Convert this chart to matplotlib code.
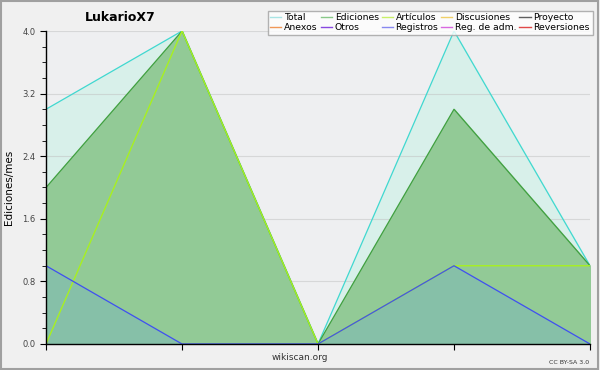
import matplotlib.pyplot as plt
from matplotlib.lines import Line2D
from matplotlib.patches import Rectangle

# monthly edits, five months
months = [0, 1, 2, 3, 4]
total = [3, 4, 0, 4, 1]
ediciones = [2, 4, 0, 3, 1]
articulos = [0, 4, 0, 1, 1]
registros = [1, 0, 0, 1, 0]

legend_names = ['Total', 'Anexos', 'Ediciones', 'Otros', 'Artículos', 'Registros',
                'Discusiones', 'Reg. de adm.', 'Proyecto', 'Reversiones']
legend_colors = ['#a8e4e4', '#f09858', '#88c888', '#8848e0', '#c8f068', '#8888f0',
                 '#f0d068', '#d868e0', '#606060', '#e04848']

plt.rcParams['font.family'] = ['DejaVu Sans']
fig = plt.figure(figsize=(6, 3.7), dpi=100, facecolor='#f0f0f0')
fig.patches.append(Rectangle((0.002, 0.003), 0.995, 0.994, transform=fig.transFigure,
                             fill=False, edgecolor='#a0a0a0', linewidth=1.5))
ax = fig.add_axes([0.0767, 0.0703, 0.9066, 0.8459])
ax.set_facecolor('#eeeff1')

ax.fill_between(months, total, color='#d8f0ea', zorder=1)
ax.fill_between(months, ediciones, color='#92ca96', zorder=2)
ax.fill_between(months, registros, color='#86c0a8', zorder=3)
ax.plot(months, total, color='#40d8d0', lw=0.9, zorder=5)
ax.plot(months, ediciones, color='#40a040', lw=0.9, zorder=5)
ax.plot(months, articulos, color='#a8f020', lw=1.0, zorder=5)
ax.plot(months, registros, color='#4050f0', lw=0.9, zorder=6)

ax.set_xlim(0, 4)
ax.set_ylim(0, 4)
ax.set_yticks([0, 0.8, 1.6, 2.4, 3.2, 4.0])
ax.set_yticklabels(['0.0', '0.8', '1.6', '2.4', '3.2', '4.0'])
ax.set_yticks([i * 0.2 for i in range(21)], minor=True)
ax.set_xticks(months)
ax.set_xticklabels([])
ax.tick_params(axis='both', labelsize=6, labelcolor='#444444', length=4, width=0.8)
ax.tick_params(axis='y', which='minor', length=3)
ax.grid(axis='y', color='#c0c0c0', lw=0.8)
for s in ['top', 'right']:
    ax.spines[s].set_visible(False)
for s in ['left', 'bottom']:
    ax.spines[s].set_linewidth(1)
    ax.spines[s].set_zorder(10)
for gl in ax.get_ygridlines():
    gl.set_zorder(4)
    gl.set_alpha(0.5)

ax.set_ylabel('Ediciones/mes', fontsize=7.5, labelpad=6)
fig.text(0.5, 0.033, 'wikiscan.org', ha='center', va='center', fontsize=6.5, color='#333333')
fig.text(0.982, 0.02, 'CC BY-SA 3.0', ha='right', va='center', fontsize=4.5, color='#333333')
fig.text(0.142, 0.953, 'LukarioX7', ha='left', va='center', fontsize=9, fontweight='bold')

handles = [Line2D([0], [0], color=c, lw=1) for c in legend_colors]
leg = ax.legend(handles, legend_names, ncol=5, loc='upper right', bbox_to_anchor=(1.005, 1.065),
                fontsize=6.7, frameon=True, fancybox=False, handlelength=1.2, handletextpad=0.3,
                columnspacing=0.3, labelspacing=0.1, borderpad=0.3, borderaxespad=0)
leg.get_frame().set_edgecolor('#a0a0a0')
leg.get_frame().set_facecolor('white')
leg.get_frame().set_linewidth(1)
leg.set_zorder(20)

fig.savefig('out.png', dpi=100, facecolor=fig.get_facecolor())
